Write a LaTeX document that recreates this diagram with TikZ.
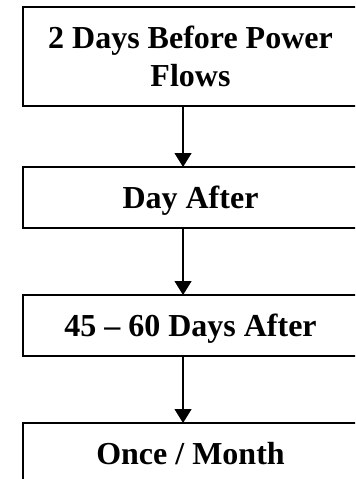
\documentclass[tikz,border=0pt]{standalone}
\usepackage{fontspec}
\setmainfont{Liberation Serif}
\usetikzlibrary{arrows.meta}
\tikzset{
  stage/.style={draw, line width=1.5pt, outer sep=0pt, inner sep=0pt,
    anchor=north west, minimum width=251.25pt, align=center,
    font=\fontsize{24}{28.5}\selectfont\bfseries},
  shortstage/.style={stage, minimum height=45.75pt,
    text height=18pt, text depth=1.5pt},
  flow/.style={-{Triangle[width=12.75pt,length=10.5pt]}, line width=0.9pt}
}
\begin{document}
\begin{tikzpicture}[x=0.75pt, y=-0.75pt]
      \useasboundingbox (0,0) rectangle (355,479);
      \clip (0,0) rectangle (355,479);
      \node[stage, minimum height=74.25pt] (before) at (23,7) {2 Days Before Power\\Flows};
      \node[shortstage] (dayafter) at (23,167) {Day After};
      \node[shortstage] (later) at (23,295) {45 -- 60 Days After};
      \node[shortstage] (monthly) at (23,423) {Once / Month};
      \begin{scope}[flow]
        \draw ([xshift=-5.6pt]before.south) to ([xshift=-5.6pt]dayafter.north);
        \draw ([xshift=-5.6pt]dayafter.south) to ([xshift=-5.6pt]later.north);
        \draw ([xshift=-5.6pt]later.south) to ([xshift=-5.6pt]monthly.north);
      \end{scope}
    \end{tikzpicture}
\end{document}
